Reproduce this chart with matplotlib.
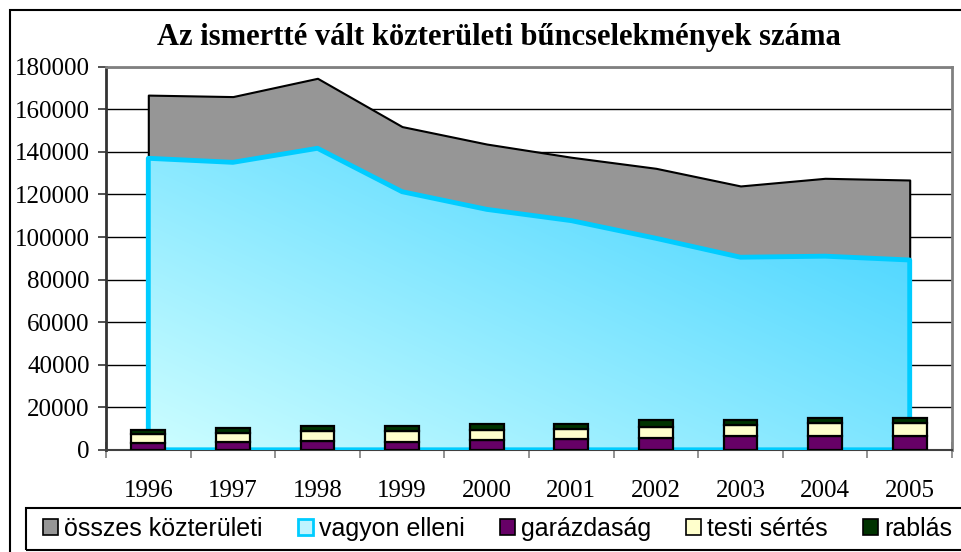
import numpy as np
import matplotlib
matplotlib.use('Agg')
import matplotlib.pyplot as plt
from matplotlib.patches import Rectangle, Patch

# ---- data ----
years = ['1996', '1997', '1998', '1999', '2000', '2001', '2002', '2003', '2004', '2005']
osszes = [166700, 166000, 174600, 151900, 143700, 137500, 132300, 124000, 127600, 126800]
vagyon = [137000, 135100, 141700, 121300, 113000, 107700, 99400, 90500, 91000, 89200]
garazdasag = [3200, 3620, 4090, 3900, 4700, 5000, 5640, 6580, 6580, 6720]
testi = [4180, 4510, 4980, 5170, 4700, 4980, 5310, 5310, 6250, 6110]
rablas = [2160, 2210, 2350, 2350, 2960, 2350, 3150, 2210, 2350, 2350]
yticks = list(range(0, 180001, 20000))
title = 'Az ismertté vált közterületi bűncselekmények száma'
labels = ['összes közterületi', 'vagyon elleni', 'garázdaság', 'testi sértés', 'rablás']

plt.rcParams['font.family'] = ['Liberation Serif', 'DejaVu Serif']

W, H = 962, 552
fig = plt.figure(figsize=(W / 100, H / 100), dpi=100)
ax = fig.add_axes([106 / W, 1 - 449.8 / H, 846 / W, 383 / H])

x = np.arange(len(years))

# grey total area
ax.fill_between(x, 0, osszes, facecolor='#969696', edgecolor='black',
                linewidth=1.5, zorder=2)

# cyan area with diagonal gradient
cy = ax.fill_between(x, 0, vagyon, facecolor='none', edgecolor='#00CCFF',
                     linewidth=3.5, zorder=4)
ny, nx = 200, 200
gx, gy = np.meshgrid(np.linspace(0, 1, nx), np.linspace(0, 1, ny))
t = np.clip(0.5 * gx + 0.5 * gy, 0, 1)[..., None]
c0 = np.array([0.82, 1.0, 1.0])
c1 = np.array([0.14, 0.79, 1.0])
grad = c0 * (1 - t) + c1 * t
im = ax.imshow(grad, extent=(-0.5, len(years) - 0.5, 0, 180000), origin='lower',
               aspect='auto', interpolation='bilinear', zorder=3)
im.set_clip_path(cy.get_paths()[0], ax.transData)

# stacked bars
garr = np.array(garazdasag)
tarr = np.array(testi)
kw = dict(width=0.4, edgecolor='black', linewidth=1.6, zorder=5)
ax.bar(x, garazdasag, color='#660066', **kw)
ax.bar(x, testi, bottom=garr, color='#FFFFCC', **kw)
ax.bar(x, rablas, bottom=garr + tarr, color='#003300', **kw)

ax.set_xlim(-0.5, len(years) - 0.5)
ax.set_ylim(0, 180000)

# grid
ax.set_axisbelow(True)
ax.yaxis.grid(True, color='black', linewidth=1)

# y axis
ax.set_yticks(yticks)
ax.set_yticklabels([str(v) for v in yticks])
ax.tick_params(axis='y', direction='out', length=5.8, width=1.2, color='#333333',
               pad=6, labelsize=18)

# x axis
ax.set_xticks(np.arange(-0.5, len(years), 1.0))
ax.set_xticklabels([])
ax.set_xticks(x, minor=True)
ax.set_xticklabels(years, minor=True)
ax.tick_params(axis='x', which='major', direction='inout', length=11.5, width=1.2,
               color='#808080')
ax.tick_params(axis='x', which='minor', length=0, pad=22, labelsize=18)

for s in ['top', 'right']:
    ax.spines[s].set_color('#808080')
    ax.spines[s].set_linewidth(2)
ax.spines['left'].set_color('#333333')
ax.spines['left'].set_linewidth(2)
ax.spines['bottom'].set_color('#404040')
ax.spines['bottom'].set_linewidth(1.5)

# title
fig.text(499 / W, 1 - 37 / H, title, ha='center', va='center', fontsize=22,
         fontweight='bold', family='Liberation Serif')

# outer chart border (clipped at right/bottom)
fig.add_artist(Rectangle((10 / W, -0.1), 1.2, 1 - 10 / H + 0.1, transform=fig.transFigure,
                         fill=False, edgecolor='black', linewidth=1.5))
# legend box (clipped at right)
fig.add_artist(Rectangle((26 / W, 2 / H), 1.0, 42 / H, transform=fig.transFigure,
                         fill=False, edgecolor='black', linewidth=1.5))

handles = [
    Patch(facecolor='#969696', edgecolor='black', linewidth=1.2),
    Patch(facecolor='#BFF4FF', edgecolor='#00CCFF', linewidth=2),
    Patch(facecolor='#660066', edgecolor='black', linewidth=1.2),
    Patch(facecolor='#FFFFCC', edgecolor='black', linewidth=1.2),
    Patch(facecolor='#003300', edgecolor='black', linewidth=1.2),
]
fig.legend(handles, labels, loc='center left', bbox_to_anchor=(43 / W, 1 - 529 / H),
           ncol=5, frameon=False, prop={'family': 'Liberation Sans', 'size': 18},
           handlelength=0.6, handleheight=0.6, handletextpad=0.25,
           columnspacing=1.4, borderpad=0, borderaxespad=0)

fig.savefig('out.png', dpi=100)
